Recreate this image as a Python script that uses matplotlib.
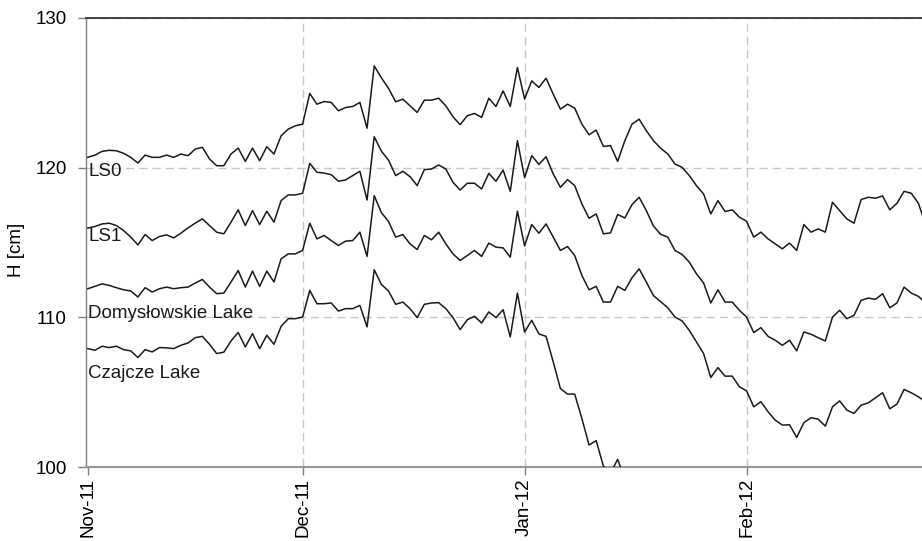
import matplotlib
matplotlib.use("Agg")
import matplotlib.pyplot as plt
import datetime as dt

plt.rcParams['font.family'] = ['Liberation Sans', 'DejaVu Sans']

# ---- data (daily water levels, cm) ----
start_date = dt.datetime(2011, 11, 1)

ls0 = [120.69, 120.84, 121.09, 121.16, 121.13, 120.96, 120.69, 120.31, 120.84, 120.69, 120.69,
       120.84, 120.69, 120.91, 120.8, 121.24, 121.36, 120.58, 120.13, 120.13, 120.91,
       121.31, 120.42, 121.31, 120.47, 121.4, 120.91, 122.13, 122.58, 122.8, 122.91, 124.96,
       124.24, 124.42, 124.36, 123.8, 124.02, 124.09, 124.36, 122.64, 126.8, 126.0, 125.3,
       124.4, 124.58, 124.13, 123.69, 124.51, 124.51, 124.64, 124.13, 123.4, 122.87, 123.47,
       123.62, 123.36, 124.64, 124.09, 125.13, 124.09, 126.69, 124.58, 125.8, 125.36,
       125.98, 124.91, 123.91, 124.24, 123.98, 122.91, 122.2, 122.51, 121.42, 121.47, 120.42,
       121.8, 122.91, 123.24, 122.47, 121.8, 121.3,
       120.91, 120.24, 120.02, 119.47, 118.8, 118.24, 116.91, 117.8, 117.07, 117.18, 116.69,
       116.42, 115.36, 115.69, 115.24, 114.91, 114.58, 114.96,
       114.47, 116.2, 115.69, 115.91, 115.69, 117.69, 117.13, 116.58, 116.29, 117.87, 118.02,
       117.96, 118.11, 117.18, 117.62, 118.42, 118.29, 117.62, 116.2]

ls1 = [115.96, 116.07, 116.24, 116.29, 116.13, 115.8, 115.36, 114.84, 115.53, 115.13, 115.4,
       115.51, 115.31, 115.62, 115.98, 116.29, 116.58, 116.13, 115.69, 115.58, 116.36,
       117.18, 116.13, 117.13, 116.2, 117.09, 116.36, 117.8, 118.18, 118.18, 118.29, 120.29,
       119.69, 119.64, 119.53, 119.09, 119.18, 119.47, 119.76, 117.84, 122.07, 121.1, 120.5,
       119.47, 119.76, 119.4, 118.8, 119.87, 119.91, 120.18, 119.91, 119.02, 118.51, 118.96,
       118.96, 118.58, 119.62, 119.09, 119.84, 118.42, 121.8, 119.33, 120.8, 120.22,
       120.73, 119.58, 118.69, 119.2, 118.8, 117.58, 116.62, 116.91, 115.58, 115.64, 116.87,
       116.64, 117.53, 118.02, 117.13, 116.1, 115.55,
       115.36, 114.47, 114.2, 113.69, 112.91, 112.29, 110.96, 111.84, 111.02, 111.02, 110.47,
       110.02, 108.98, 109.31, 108.73, 108.47, 108.13, 108.47,
       107.76, 109.02, 108.87, 108.64, 108.42, 110.02, 110.47, 109.91, 110.13, 111.13, 111.29,
       111.2, 111.58, 110.64, 110.96, 112.02, 111.62, 111.4, 110.95]

domyslowskie = [111.91, 112.07, 112.24, 112.13, 111.98, 111.84, 111.76, 111.36, 111.98, 111.69,
                111.91, 112.02, 111.91, 111.98, 112.02, 112.29, 112.53, 112.02, 111.58, 111.62,
                112.36,
                113.13, 112.02, 113.09, 112.07, 113.09, 112.36, 113.91, 114.24, 114.24, 114.47,
                116.29, 115.24, 115.47, 115.13, 114.8, 115.09, 115.13, 115.69, 114.07, 118.13,
                117.0, 116.4,
                115.36, 115.53, 114.91, 114.53, 115.47, 115.18, 115.69, 114.91, 114.24, 113.8,
                114.13, 114.47, 114.07, 114.96, 114.69, 114.64, 114.02, 117.09, 114.77, 116.2,
                115.62,
                116.24, 115.36, 114.47, 114.73, 114.13, 112.8, 111.84, 112.07, 111.02, 111.02,
                112.07, 111.8, 112.64, 113.24, 112.36, 111.45, 111.05,
                110.64, 110.02, 109.76, 109.13, 108.36, 107.58, 105.98, 106.64, 106.07, 106.07,
                105.36, 105.09, 104.02, 104.36, 103.69, 103.13, 102.8, 102.82,
                101.98, 102.96, 103.29, 103.2, 102.73, 104.02, 104.42, 103.8, 103.58, 104.13,
                104.29, 104.62, 104.96, 103.89, 104.2, 105.18, 104.96, 104.69, 104.35]

czajcze = [107.91, 107.8, 108.07, 107.98, 108.07, 107.84, 107.76, 107.31, 107.84, 107.69, 107.98,
           107.96, 107.91, 108.13, 108.29, 108.64, 108.73, 108.2, 107.58, 107.67, 108.42,
           108.99, 108.02, 108.91, 107.91, 108.8, 108.2, 109.4, 109.91, 109.91, 110.02, 111.8,
           110.91, 110.91, 110.96, 110.42, 110.58, 110.58, 110.8, 109.36, 113.18, 112.2, 111.75,
           110.87, 111.02, 110.58, 109.98, 110.87, 110.96, 110.98, 110.58, 109.98, 109.18, 109.84,
           110.07, 109.62, 110.36, 109.98, 110.51, 108.69, 111.62, 109.02, 109.8, 108.89,
           108.73, 107.02, 105.24, 104.87, 104.87, 103.24, 101.47, 101.76, 100.07, 99.6, 100.51,
           99.2]

series = [ls0, ls1, domyslowskie, czajcze]
series_labels = ["LS0", "LS1", "Domysłowskie Lake", "Czajcze Lake"]
label_y = [119.47, 115.13, 109.93, 105.93]

tick_dates = [dt.datetime(2011, 11, 1), dt.datetime(2011, 12, 1),
              dt.datetime(2012, 1, 1), dt.datetime(2012, 2, 1)]
tick_labels = ["Nov-11", "Dec-11", "Jan-12", "Feb-12"]
y_ticks = [100, 110, 120, 130]

FS = 13.5

# ---- figure ----
W, H = 922, 541
fig = plt.figure(figsize=(W / 100, H / 100), dpi=100)
ax = fig.add_axes([86 / W, 74 / H, 836 / W, 449 / H])

for s in series:
    dates = [start_date + dt.timedelta(days=i) for i in range(len(s))]
    ax.plot(dates, s, color='#1a1a1a', lw=1.1, zorder=3)

ax.set_xlim(start_date - dt.timedelta(days=0.25), start_date + dt.timedelta(days=116.5))
ax.set_ylim(100, 130)

ax.set_xticks(tick_dates)
ax.set_xticklabels(tick_labels, rotation=90, fontsize=FS)
ax.set_yticks(y_ticks)
ax.set_yticklabels([str(v) for v in y_ticks], fontsize=FS)

ax.tick_params(axis='y', length=6, color='#808080', pad=8, width=1)
ax.tick_params(axis='x', length=6, color='#808080', pad=2, width=1)

ax.grid(True, linestyle=(0, (6, 3.5)), color='#c8c8c8', lw=1)
ax.set_axisbelow(True)
# the first month line coincides with the left axis edge
ax.get_xgridlines()[0].set_visible(False)

ax.spines['right'].set_visible(False)
ax.spines['top'].set_color('#333333')
ax.spines['top'].set_linewidth(1.3)
ax.spines['left'].set_color('#7f7f7f')
ax.spines['left'].set_linewidth(1)
ax.spines['bottom'].set_color('#999999')
ax.spines['bottom'].set_linewidth(1.5)

ax.set_ylabel("H [cm]", fontsize=FS)
ax.yaxis.set_label_coords((25 - 86) / 836, 0.483)

trans = ax.get_yaxis_transform()
for lab, yv in zip(series_labels, label_y):
    ax.text(2 / 836, yv, lab, transform=trans, fontsize=FS, ha='left', va='baseline',
            color='#1a1a1a', zorder=4)

fig.savefig("out.png", dpi=100)
